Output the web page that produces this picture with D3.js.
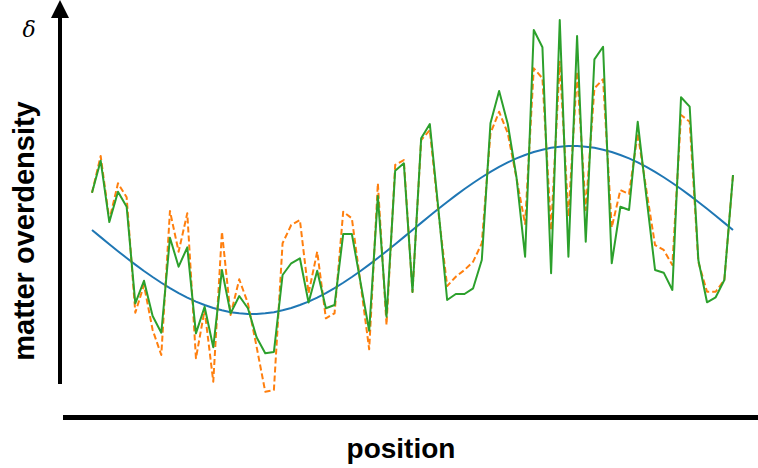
<!DOCTYPE html>
<html>
<head>
<meta charset="utf-8">
<script src="https://cdn.jsdelivr.net/npm/d3@7"></script>
<style>
  html, body { margin: 0; padding: 0; background: #fff; }
  svg { display: block; }
</style>
</head>
<body>
<svg id="chart" width="758" height="468"></svg>
<script>
// Smooth linear-theory density field
const linearField = [
  0.000, -0.085, -0.169, -0.252, -0.333, -0.412, -0.488, -0.560, -0.628, -0.692,
  -0.751, -0.804, -0.852, -0.893, -0.928, -0.956, -0.978, -0.992, -0.999, -0.999,
  -0.992, -0.978, -0.956, -0.928, -0.893, -0.852, -0.804, -0.751, -0.692, -0.628,
  -0.560, -0.488, -0.412, -0.333, -0.252, -0.169, -0.085, 0.000, 0.085, 0.169,
  0.252, 0.333, 0.412, 0.488, 0.560, 0.628, 0.692, 0.751, 0.804, 0.852,
  0.893, 0.928, 0.956, 0.978, 0.992, 0.999, 0.999, 0.992, 0.978, 0.956,
  0.928, 0.893, 0.852, 0.804, 0.751, 0.692, 0.628, 0.560, 0.488, 0.412,
  0.333, 0.252, 0.169, 0.085, 0.000
];

// Small-scale field (dashed)
const dashedField = [
  0.444, 0.881, 0.119, 0.556, 0.389, -0.985, -0.655, -1.190, -1.488, 0.226,
  -0.258, 0.199, -1.527, -0.952, -1.806, -0.020, -1.012, -0.587, -0.873, -1.389,
  -1.925, -1.905, -0.158, 0.060, 0.119, -0.754, -0.258, -1.051, -0.992, 0.218,
  0.139, -0.635, -1.420, 0.556, -1.131, 0.774, 0.833, -0.738, 1.071, 1.190,
  0.202, -0.667, -0.556, -0.476, -0.377, -0.158, 1.151, 1.408, 1.151, 0.619,
  0.071, 1.925, 1.806, 0.000, 2.004, 0.158, 1.885, 0.238, 1.687, 1.794,
  0.030, 0.476, 0.429, 1.151, 0.476, -0.179, -0.238, -0.417, 1.369, 1.289,
  -0.381, -0.735, -0.735, -0.595, 0.655
];

// Total field (solid green)
const totalField = [
  0.444, 0.825, 0.095, 0.456, 0.277, -0.873, -0.604, -1.024, -1.223, -0.092,
  -0.437, -0.206, -1.230, -0.913, -1.396, -0.476, -0.992, -0.786, -0.932, -1.277,
  -1.468, -1.452, -0.536, -0.396, -0.337, -0.863, -0.485, -0.932, -0.893, -0.048,
  -0.048, -0.623, -1.199, 0.405, -1.032, 0.706, 0.794, -0.738, 1.092, 1.262,
  0.238, -0.833, -0.762, -0.762, -0.694, -0.357, 1.270, 1.655, 1.262, 0.631,
  -0.318, 2.381, 2.175, -0.515, 2.500, -0.318, 2.310, -0.139, 2.032, 2.182,
  -0.396, 0.277, 0.238, 1.289, 0.396, -0.476, -0.508, -0.714, 1.580, 1.468,
  -0.357, -0.861, -0.801, -0.595, 0.655
];

const xLabel = "position";
const yLabel = "matter overdensity";
const yTitle = "δ";

const svg = d3.select("#chart");

const x = d3.scaleLinear().domain([0, totalField.length - 1]).range([92, 733]);
const y = d3.scaleLinear().domain([-2.5, 2.5]).range([440, 20]);

const line = d3.line()
  .x((d, i) => x(i))
  .y(d => y(d));

svg.append("path")
  .datum(linearField)
  .attr("d", line)
  .attr("fill", "none")
  .attr("stroke", "#1f77b4")
  .attr("stroke-width", 2)
  .attr("stroke-linejoin", "round");

svg.append("path")
  .datum(dashedField)
  .attr("d", line)
  .attr("fill", "none")
  .attr("stroke", "#ff7f0e")
  .attr("stroke-width", 2)
  .attr("stroke-dasharray", "6,3")
  .attr("stroke-linejoin", "round");

svg.append("path")
  .datum(totalField)
  .attr("d", line)
  .attr("fill", "none")
  .attr("stroke", "#2ca02c")
  .attr("stroke-width", 2)
  .attr("stroke-linejoin", "round");

// Vertical axis with arrow head
svg.append("line")
  .attr("x1", 60).attr("x2", 60)
  .attr("y1", 384).attr("y2", 14)
  .attr("stroke", "#000").attr("stroke-width", 4);
svg.append("path")
  .attr("d", "M60,0 L69,18 L51,18 Z")
  .attr("fill", "#000");

// Horizontal axis
svg.append("line")
  .attr("x1", 63).attr("x2", 758)
  .attr("y1", 417.5).attr("y2", 417.5)
  .attr("stroke", "#000").attr("stroke-width", 5);

svg.append("text")
  .attr("x", 401).attr("y", 458)
  .attr("text-anchor", "middle")
  .attr("font-family", "Liberation Sans, Arial, sans-serif")
  .attr("font-weight", "bold")
  .attr("font-size", 28)
  .attr("fill", "#000")
  .text(xLabel);

svg.append("text")
  .attr("transform", "translate(34,231) rotate(-90)")
  .attr("text-anchor", "middle")
  .attr("font-family", "Liberation Sans, Arial, sans-serif")
  .attr("font-weight", "bold")
  .attr("font-size", 29)
  .attr("fill", "#000")
  .text(yLabel);

svg.append("text")
  .attr("x", 29).attr("y", 37)
  .attr("text-anchor", "middle")
  .attr("font-family", "DejaVu Serif, serif")
  .attr("font-style", "italic")
  .attr("font-size", 22)
  .attr("fill", "#000")
  .text(yTitle);
</script>
</body>
</html>
